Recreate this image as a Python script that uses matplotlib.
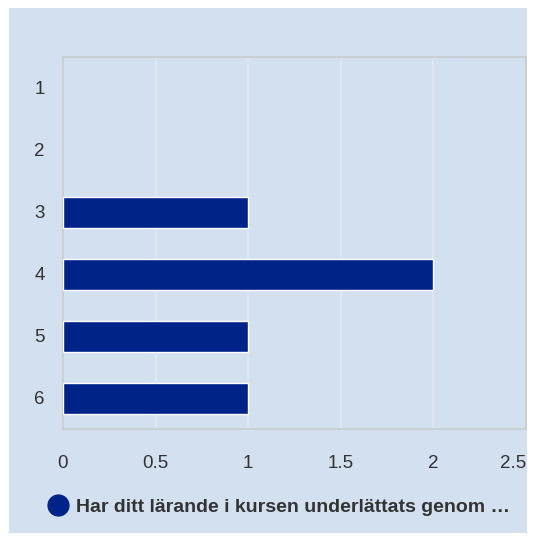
import matplotlib
matplotlib.use("Agg")
import matplotlib.pyplot as plt
import matplotlib.transforms as mtransforms
from matplotlib.patches import Rectangle
from matplotlib.lines import Line2D

# data
categories = ["1", "2", "3", "4", "5", "6"]
values = [0, 0, 1, 2, 1, 1]
xticks = [0, 0.5, 1, 1.5, 2, 2.5]
xtick_labels = ["0", "0.5", "1", "1.5", "2", "2.5"]
series_name = "Har ditt lärande i kursen underlättats genom …"

bg = "#d3e0ef"
bar_color = "#00238a"
text_color = "#333333"

plt.rcParams['font.family'] = ['Liberation Sans', 'DejaVu Sans']

W, H = 536, 542
fig = plt.figure(figsize=(W / 100, H / 100), dpi=100, facecolor="white")

# light blue panel
fig.add_artist(Rectangle((9 / W, 1 - 533 / H), (527 - 9) / W, (533 - 8) / H,
                         transform=fig.transFigure, facecolor=bg, edgecolor="none", zorder=0))

left, right, top, bottom = 63, 526, 57, 429
ax = fig.add_axes([left / W, 1 - bottom / H, (right - left) / W, (bottom - top) / H])
ax.set_facecolor(bg)

y = list(range(len(categories)))
# no white outline for empty bars
edge_w = [1 if v > 0 else 0 for v in values]
ax.barh(y, values, height=0.5, color=bar_color, edgecolor="white", linewidth=edge_w, zorder=3)

ax.set_ylim(len(categories) - 0.5, -0.5)
ax.set_yticks(y)
ax.set_yticklabels(categories)
# nudge y labels down a little
shift = mtransforms.ScaledTranslation(0, -2 / 100, fig.dpi_scale_trans)
for lbl in ax.get_yticklabels():
    lbl.set_transform(lbl.get_transform() + shift)
ax.set_xlim(0, 2.5)
ax.set_xticks(xticks)
ax.set_xticklabels(xtick_labels)
ax.get_xticklabels()[-1].set_horizontalalignment("right")

for gx in xticks[1:-1]:
    ax.axvline(gx, color="#e3e8ee", linewidth=1.2, zorder=1)

for s in ax.spines.values():
    s.set_color("#c9ccd0")
    s.set_linewidth(1.2)

ax.tick_params(axis="both", length=0, labelsize=13.5, colors=text_color)
ax.tick_params(axis="y", pad=13)
ax.tick_params(axis="x", pad=19)

# legend
fig.add_artist(Line2D([58 / W], [1 - 505 / H], marker="o", markersize=15,
                      color=bar_color, linestyle="none", transform=fig.transFigure))
fig.text(76 / W, 1 - 507 / H, series_name, fontsize=14, fontweight="bold",
         color=text_color, va="center", ha="left")

fig.savefig("out.png", dpi=100, facecolor="white")
